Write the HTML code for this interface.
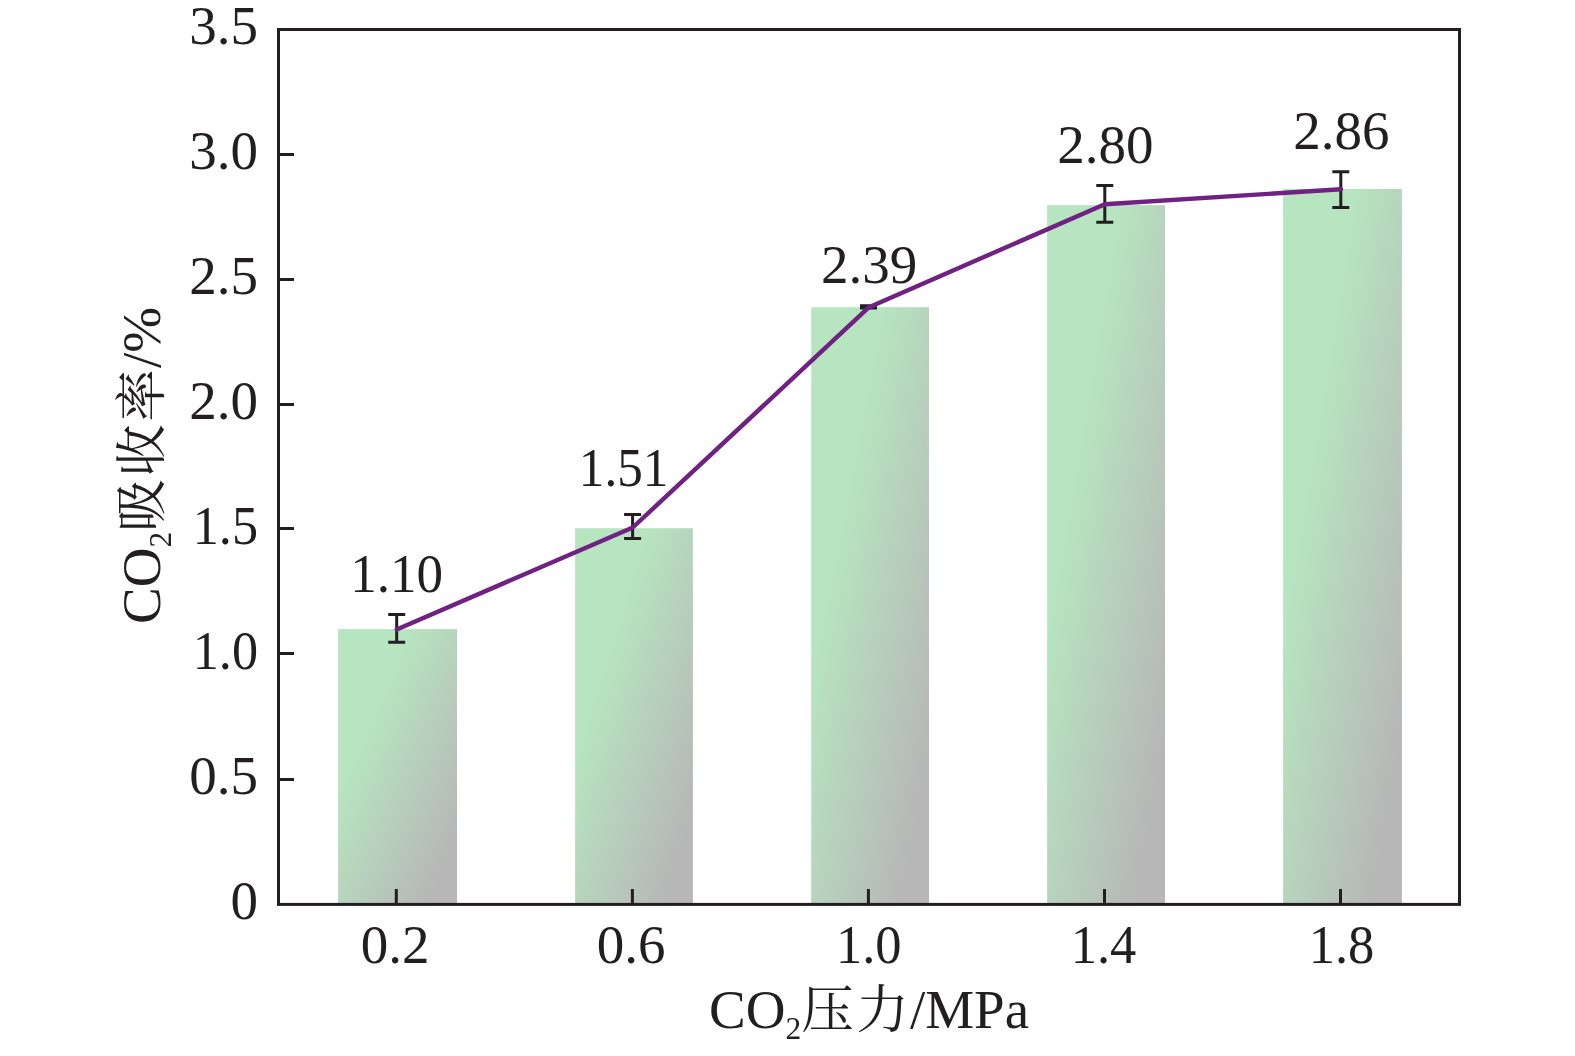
<!DOCTYPE html>
<html><head><meta charset="utf-8">
<style>
html,body{margin:0;padding:0;background:#fff;width:1575px;height:1056px;overflow:hidden}
svg{display:block;will-change:transform}
text{font-family:"Liberation Serif","Noto Serif CJK SC",serif;fill:#231f20}
.cjk{font-family:"Noto Serif CJK SC","Liberation Serif",serif}
</style></head><body>
<svg width="1575" height="1056" viewBox="0 0 1575 1056">
<defs>
<linearGradient id="g" x1="0" y1="0" x2="1" y2="1">
<stop offset="0.3" stop-color="#b7e5c0"/>
<stop offset="0.87" stop-color="#b7b7b7"/>
</linearGradient>
</defs>
<rect x="338.1" y="629.1" width="118.9" height="275.3" fill="url(#g)"/>
<rect x="575.1" y="528.2" width="117.8" height="376.2" fill="url(#g)"/>
<rect x="811.2" y="307.2" width="117.8" height="597.2" fill="url(#g)"/>
<rect x="1047.1" y="205.1" width="117.9" height="699.3" fill="url(#g)"/>
<rect x="1283.1" y="188.9" width="118.8" height="715.5" fill="url(#g)"/>
<g stroke="#231f20" stroke-width="3" fill="none">
<rect x="278.5" y="29.5" width="1181" height="874.9"/>
<path d="M278.5 779.5H294M278.5 653.5H294M278.5 528.5H294M278.5 404.5H294M278.5 279.5H294M278.5 154.5H294"/>
<path d="M396.3 904.4V889M632.4 904.4V889M868.4 904.4V889M1104.5 904.4V889M1340.5 904.4V889"/>
</g>
<g stroke="#231f20" stroke-width="3" fill="none">
<path d="M396.7 614.5V642.2M388.2 614.5H405.2M388.2 642.2H405.2"/>
<path d="M632.6 514.5V538.5M624.1 514.5H641.1M624.1 538.5H641.1"/>
<path d="M868.5 305.8V308.0M860.0 305.8H877.0M860.0 308.0H877.0"/>
<path d="M1104.8 185.6V222.3M1096.3 185.6H1113.3M1096.3 222.3H1113.3"/>
<path d="M1340.8 171.7V207.4M1332.3 171.7H1349.3M1332.3 207.4H1349.3"/>
</g>
<polyline points="396.7,629.4 632.8,527.5 869,307.2 1104.8,204.2 1341,189.2" fill="none" stroke="#702283" stroke-width="4.4" stroke-linejoin="round" stroke-linecap="round"/>
<g font-size="55">
<text x="258" y="44.4" text-anchor="end">3.5</text>
<text x="258" y="169.4" text-anchor="end">3.0</text>
<text x="258" y="294.4" text-anchor="end">2.5</text>
<text x="258" y="419.4" text-anchor="end">2.0</text>
<text transform="translate(258 544.4) scale(0.95 1)" text-anchor="end">1.5</text>
<text transform="translate(258 669.4) scale(0.95 1)" text-anchor="end">1.0</text>
<text x="258" y="794.4" text-anchor="end">0.5</text>
<text x="258" y="919.4" text-anchor="end">0</text>
<text x="395.0" y="962.5" text-anchor="middle">0.2</text>
<text x="631.2" y="962.5" text-anchor="middle">0.6</text>
<text transform="translate(868.8 962.5) scale(0.955 1)" text-anchor="middle">1.0</text>
<text transform="translate(1103.5 962.5) scale(0.955 1)" text-anchor="middle">1.4</text>
<text transform="translate(1341.5 962.5) scale(0.955 1)" text-anchor="middle">1.8</text>
<text transform="translate(396.6 591.5) scale(0.965 1)" text-anchor="middle">1.10</text>
<text transform="translate(623.6 486.4) scale(0.93 1)" text-anchor="middle">1.51</text>
<text x="869.1" y="283.3" text-anchor="middle">2.39</text>
<text x="1105.3" y="163.2" text-anchor="middle">2.80</text>
<text x="1341.3" y="148.8" text-anchor="middle">2.86</text>
</g>
<text x="709" y="1027.6" font-size="55">CO<tspan font-size="31.5" dy="11">2</tspan><tspan class="cjk" dy="-11" dx="0" font-size="52.5" letter-spacing="2.5">压力</tspan><tspan dx="-1.25">/MPa</tspan></text>
<text transform="translate(160,624) rotate(-90)" font-size="55">CO<tspan font-size="31.5" dy="11">2</tspan><tspan class="cjk" dy="-11" dx="0" font-size="52.5" letter-spacing="2.5">吸收率</tspan><tspan dx="-1.25">/%</tspan></text>
</svg>
</body></html>
